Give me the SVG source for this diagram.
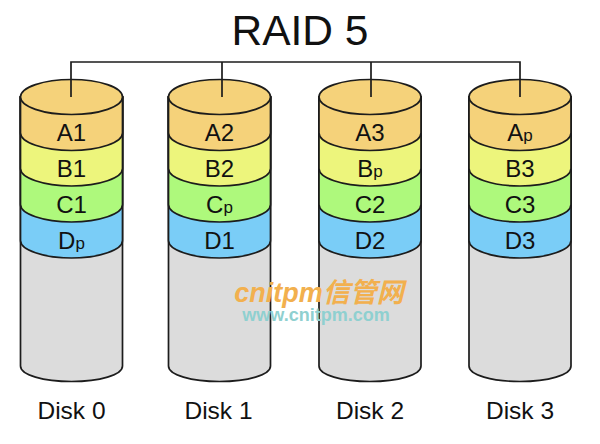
<svg xmlns="http://www.w3.org/2000/svg" width="600" height="444" viewBox="0 0 600 444">
<style>
text{font-family:"Liberation Sans",Arial,sans-serif;fill:#111;text-anchor:middle}
.l{font-size:24px}
.s{font-size:17px}
.d{font-size:24.500px}
.o{stroke:#1c1c1c;stroke-width:1.700}
.a{fill:#f5d27a}.b{fill:#edf57c}.c{fill:#aef97c}.e{fill:#7acdf7}.g{fill:#dcdcdc}
</style>
<defs>
<g id="body">
<path class="o g" d="M-51 97V366C-51 375 -28 381.500 0 381.500S51 375 51 366V97Z"/>
<path class="o e" d="M-51 97V240.500C-51 250 -28 258 0 258S51 250 51 240.500V97Z"/>
<path class="o c" d="M-51 97V204.500C-51 214 -28 222 0 222S51 214 51 204.500V97Z"/>
<path class="o b" d="M-51 97V168.500C-51 178 -28 186 0 186S51 178 51 168.500V97Z"/>
<path class="o a" d="M-51 97V133C-51 142.500 -28 150.500 0 150.500S51 142.500 51 133V97Z"/>
<ellipse class="o a" cx="0" cy="97" rx="51" ry="17.500"/>
</g>
</defs>
<text x="300" y="45" font-size="42.500">RAID 5</text>
<g id="disk0" transform="translate(71.500 0)"><use href="#body"/>
<text class="l" y="141">A1</text><text class="l" y="177">B1</text><text class="l" y="213">C1</text><text class="l" y="249">D<tspan class="s">p</tspan></text>
<text class="d" y="419">Disk 0</text></g>
<g id="disk1" transform="translate(219.500 0)"><use href="#body"/>
<text class="l" y="141">A2</text><text class="l" y="177">B2</text><text class="l" y="213">C<tspan class="s">p</tspan></text><text class="l" y="249">D1</text>
<text class="d" x="-1" y="419">Disk 1</text></g>
<g id="disk2" transform="translate(370 0)"><use href="#body"/>
<text class="l" y="141">A3</text><text class="l" y="177">B<tspan class="s">p</tspan></text><text class="l" y="213">C2</text><text class="l" y="249">D2</text>
<text class="d" y="419">Disk 2</text></g>
<g id="disk3" transform="translate(520 0)"><use href="#body"/>
<text class="l" y="141">A<tspan class="s">p</tspan></text><text class="l" y="177">B3</text><text class="l" y="213">C3</text><text class="l" y="249">D3</text>
<text class="d" y="419">Disk 3</text></g>
<g id="connectors" fill="none" stroke="#1c1c1c" stroke-width="1.700">
<path d="M71 97V62H520V97M222 62V97M371 62V97"/>
</g>
<g id="watermark">
<text x="319" y="302" font-size="27" font-weight="bold" font-style="italic" style="fill:#f2b04e;font-family:'Liberation Sans','Noto Sans CJK SC',sans-serif">cnitpm信管网</text>
<text x="316" y="321" font-size="18" font-weight="bold" style="fill:#8fd0d0">www.cnitpm.com</text>
</g>
</svg>
